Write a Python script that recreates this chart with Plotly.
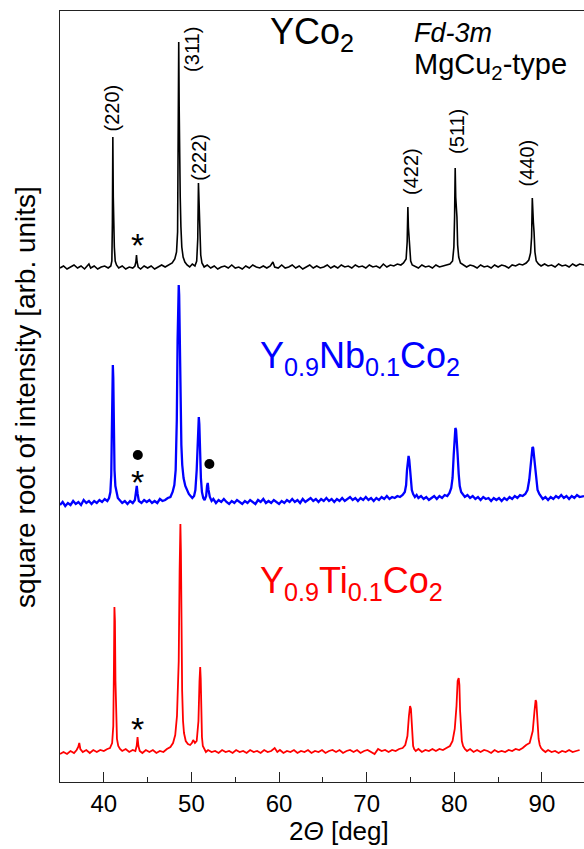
import plotly.graph_objects as go

# ---------------- data ----------------
# 2-theta positions [deg] and sqrt-intensity heights above each pattern's baseline [arb. units]
ycO2_x = [35.0, 35.4, 35.8, 36.2, 36.6, 37.0, 37.4, 37.8, 38.1, 38.3, 38.5, 38.9, 39.3, 39.7, 40.1, 40.5, 40.8,
          40.92, 40.98, 41.03, 41.08, 41.13, 41.2, 41.3, 41.45,
          41.7, 42.1, 42.5, 42.9, 43.3, 43.55, 43.66, 43.73, 43.8, 43.92, 44.2, 44.6, 45.0, 45.4, 45.8, 46.2, 46.6,
          47.0, 47.4, 47.8, 48.1, 48.3, 48.42, 48.5, 48.55, 48.6, 48.66, 48.72, 48.8, 48.9, 49.05, 49.25, 49.5,
          49.8, 50.1, 50.4, 50.6, 50.72, 50.8, 50.86, 50.92, 50.98, 51.06, 51.2, 51.45,
          51.8, 52.2, 52.6, 53.0, 53.4, 53.8, 54.2, 54.6, 55.0, 55.4, 55.8, 56.2, 56.6, 57.0, 57.4, 57.8, 58.2,
          58.6, 59.0, 59.3, 59.5, 59.9, 60.3, 60.7, 61.1, 61.5, 61.9, 62.3, 62.7, 63.1, 63.5, 63.9, 64.3, 64.7,
          65.1, 65.5, 65.9, 66.3, 66.7, 67.1, 67.5, 67.9, 68.3, 68.7, 69.1, 69.5, 69.9, 70.3, 70.7, 71.1, 71.5,
          71.9, 72.3, 72.7, 73.1, 73.5, 73.9, 74.2, 74.5, 74.62, 74.7, 74.76, 74.82, 74.9, 75.02, 75.2,
          75.5, 75.9, 76.3, 76.7, 77.1, 77.5, 77.9, 78.3, 78.7, 79.1, 79.5, 79.8, 79.95, 80.03, 80.1, 80.16,
          80.22, 80.3, 80.38, 80.5, 80.7, 81.0, 81.4, 81.8, 82.2, 82.6, 83.0, 83.4, 83.8, 84.2, 84.6, 85.0,
          85.4, 85.8, 86.2, 86.6, 87.0, 87.4, 87.8, 88.2, 88.5, 88.7, 88.82, 88.9, 88.96, 89.02, 89.1, 89.2,
          89.35, 89.6, 89.9, 90.3, 90.7, 91.1, 91.5, 91.9, 92.3, 92.7, 93.1, 93.5, 93.9, 94.3, 94.8]
yco2_h = [-1, 1, -2, 0, 2, -1, 1, -2, 1, 3, -1, 1, -2, 0, 1, -1, 1,
          6, 45, 130, 70, 46, 20, 6, 2,
          -1, 1, -2, 0, -1, 1, 5, 12, 5, 0, -2, 1, -1, 1, -2, 0, 2,
          0, 2, 4, 8, 15, 35, 110, 225, 160, 80, 70, 40, 20, 10, 5, 2,
          0, 3, 1, 6, 28, 84, 60, 35, 30, 12, 4, 0,
          2, -1, 1, -2, 0, 1, -1, 2, -1, 0, -2, 1, -1, 2, 0, -1, 1,
          -1, 1, 5, 0, -1, 2, -1, 0, 2, -1, 1, -2, 0, 2, -1, 1, -1,
          0, 2, -1, 1, -1, 2, 0, 1, -1, 2, 0, 1, -1, 2, 0, 1, -1,
          3, 0, 2, 1, 3, 2, 4, 8, 25, 60, 40, 30, 14, 6, 2,
          1, -1, 2, 0, 1, -1, 2, 0, 1, 2, 3, 6, 20, 50, 99, 70,
          64, 50, 22, 10, 4, 2, 0, 2, 1, -1, 2, 0, 1, -1, 2, 0,
          2, 1, -1, 2, 1, 3, 2, 4, 7, 14, 30, 69, 50, 45, 35, 15,
          6, 3, 1, 3, 1, 2, 0, 3, 1, 2, 0, 3, 1, 3, 2]

nb_x = [35.0, 35.3, 35.6, 35.9, 36.2, 36.5, 36.8, 37.1, 37.4, 37.7, 38.0, 38.3, 38.6, 38.9, 39.2, 39.5, 39.8,
        40.1, 40.4, 40.6, 40.75, 40.85, 40.92, 40.98, 41.03, 41.08, 41.14, 41.22, 41.32, 41.45, 41.6, 41.8,
        42.1, 42.4, 42.7, 43.0, 43.3, 43.55, 43.68, 43.76, 43.86, 44.0, 44.3, 44.6, 44.9, 45.2, 45.5, 45.8,
        46.1, 46.4, 46.7, 47.0, 47.3, 47.6, 47.85, 48.05, 48.2, 48.33, 48.42, 48.5, 48.55, 48.6, 48.68, 48.76,
        48.85, 48.95, 49.1, 49.3, 49.5, 49.7, 49.9, 50.1, 50.3, 50.45, 50.6, 50.7, 50.78, 50.84, 50.9, 50.98,
        51.08, 51.2, 51.35, 51.5, 51.68, 51.78, 51.86, 51.95, 52.1, 52.3, 52.5, 52.8, 53.1, 53.4, 53.7, 54.0,
        54.3, 54.6, 54.9, 55.2, 55.5, 55.8, 56.1, 56.4, 56.7, 57.0, 57.3, 57.6, 57.9, 58.2, 58.5, 58.8, 59.1,
        59.4, 59.7, 60.0, 60.3, 60.6, 60.9, 61.2, 61.5, 61.8, 62.1, 62.4, 62.7, 63.0, 63.3, 63.6, 63.9, 64.2,
        64.5, 64.8, 65.1, 65.4, 65.7, 66.0, 66.3, 66.6, 66.9, 67.2, 67.5, 67.8, 68.1, 68.4, 68.7, 69.0, 69.3,
        69.6, 69.9, 70.2, 70.5, 70.8, 71.1, 71.4, 71.7, 72.0, 72.3, 72.6, 72.9, 73.2, 73.5, 73.8, 74.1, 74.35,
        74.5, 74.6, 74.7, 74.78, 74.86, 74.95, 75.05, 75.15, 75.3, 75.5, 75.7, 75.9, 76.2, 76.5, 76.8, 77.1,
        77.4, 77.7, 78.0, 78.3, 78.6, 78.9, 79.2, 79.45, 79.65, 79.8, 79.93, 80.03, 80.12, 80.2, 80.28, 80.38,
        80.5, 80.62, 80.78, 81.0, 81.2, 81.5, 81.8, 82.1, 82.4, 82.7, 83.0, 83.3, 83.6, 83.9, 84.2, 84.5,
        84.8, 85.1, 85.4, 85.7, 86.0, 86.3, 86.6, 86.9, 87.2, 87.5, 87.8, 88.1, 88.35, 88.55, 88.7, 88.82,
        88.92, 89.0, 89.1, 89.22, 89.35, 89.5, 89.7, 89.9, 90.1, 90.4, 90.7, 91.0, 91.3, 91.6, 91.9, 92.2,
        92.5, 92.8, 93.1, 93.4, 93.7, 94.0, 94.3, 94.8]
nb_h = [-5, -2, -6, -3, -5, -1, -4, -2, -5, 0, -3, -1, -4, -1, -3, 0, -2,
        1, -1, 2, 8, 25, 70, 120, 135, 122, 75, 30, 14, 6, 2, 0,
        -3, -1, -4, -1, -3, 0, 8, 14, 6, -1, -3, 0, -2, 0, -3, -1,
        -3, 1, -1, 0, 2, 3, 8, 15, 30, 80, 160, 205, 215, 205, 150, 95,
        55, 35, 22, 14, 10, 6, 4, 2, 4, 10, 30, 62, 80, 83, 76, 50,
        22, 8, 2, 0, 4, 14, 17, 10, 3, -1, 1, -3, 0, -2, 1, -2,
        -4, -1, -3, 0, -2, -4, -1, -3, 0, -2, -4, 0, -2, 1, -3, -1, -3,
        0, -2, -4, -1, -3, 0, -2, 1, -2, 0, -3, 1, -2, 0, 2, -1, 1,
        -2, 1, -1, 2, -1, 1, -2, 1, -1, 2, -1, 1, 3, 0, 2, -1, 2,
        0, 3, 0, 2, -1, 2, 0, 3, 1, 4, 1, 3, 2, 4, 3, 5, 8,
        15, 30, 40, 44, 40, 28, 16, 10, 6, 3, 5, 2, 4, 1, 3, 0,
        2, 4, 1, 4, 2, 5, 4, 7, 12, 22, 45, 64, 72, 70, 62, 45,
        26, 14, 8, 5, 3, 5, 2, 4, 1, 3, 0, 3, 1, 2, -1, 2,
        0, 2, -1, 2, 0, 3, 1, 4, 2, 5, 4, 6, 10, 20, 35, 48,
        53, 52, 44, 30, 18, 10, 6, 4, 1, 3, 0, 3, 1, 4, 2, 5,
        2, 4, 1, 4, 2, 5, 3, 4]

ti_x = [35.0, 35.4, 35.8, 36.2, 36.6, 36.9, 37.08, 37.2, 37.32, 37.6, 38.0, 38.4, 38.8, 39.2, 39.6, 40.0,
        40.4, 40.7, 40.95, 41.08, 41.15, 41.21, 41.27, 41.33, 41.41, 41.5, 41.65, 41.85, 42.1, 42.5, 42.9,
        43.3, 43.6, 43.75, 43.85, 43.95, 44.1, 44.4, 44.8, 45.2, 45.6, 46.0, 46.4, 46.8, 47.2, 47.6, 47.9,
        48.15, 48.35, 48.55, 48.65, 48.74, 48.8, 48.86, 48.94, 49.04, 49.15, 49.35, 49.6, 49.85, 50.05, 50.2,
        50.4, 50.6, 50.8, 50.92, 51.0, 51.06, 51.12, 51.2, 51.3, 51.45, 51.65, 51.9, 52.3, 52.7, 53.1, 53.5,
        53.9, 54.3, 54.7, 55.1, 55.5, 55.9, 56.3, 56.7, 57.1, 57.5, 57.9, 58.3, 58.7, 59.1, 59.5, 59.8, 60.1,
        60.5, 60.9, 61.3, 61.7, 62.1, 62.5, 62.9, 63.3, 63.7, 64.1, 64.5, 64.9, 65.3, 65.7, 66.1, 66.5, 66.9,
        67.3, 67.7, 68.1, 68.5, 68.9, 69.3, 69.7, 70.1, 70.5, 70.9, 71.3, 71.7, 72.1, 72.5, 72.9, 73.3, 73.7,
        74.1, 74.4, 74.65, 74.82, 74.95, 75.05, 75.12, 75.2, 75.3, 75.42, 75.6, 75.9, 76.3, 76.7, 77.1, 77.5,
        77.9, 78.3, 78.7, 79.1, 79.5, 79.8, 80.05, 80.25, 80.38, 80.5, 80.58, 80.66, 80.76, 80.86, 81.0,
        81.2, 81.45, 81.8, 82.2, 82.6, 83.0, 83.4, 83.8, 84.2, 84.6, 85.0, 85.4, 85.8, 86.2, 86.6, 87.0,
        87.4, 87.8, 88.2, 88.6, 88.95, 89.15, 89.28, 89.36, 89.44, 89.52, 89.62, 89.75, 89.9, 90.1, 90.4,
        90.7, 91.1, 91.5, 91.9, 92.3, 92.7, 93.1, 93.5, 93.9, 94.3, 94.8]
ti_h = [-3, -1, -3, 0, -2, 1, 4, 8, 2, -1, 1, -2, 1, -1, 1, 0,
        2, 3, 8, 25, 80, 144, 130, 70, 30, 12, 5, 2, 0, 2, -1,
        1, 0, 5, 14, 5, 0, -2, 1, -1, 1, -2, 0, -1, 2, 4, 8,
        16, 35, 90, 180, 227, 200, 120, 60, 30, 18, 10, 7, 6, 8, 11,
        8, 10, 30, 70, 84, 72, 40, 14, 5, 2, -1, 1, -1, 0, -2,
        1, -1, 0, -2, 1, -1, 0, -2, 1, -1, 0, -2, 1, -1, 0, 3, -1,
        1, -2, 0, -1, 1, -2, 0, -1, 1, -2, 0, -1, 1, -2, 0, 1, -1,
        1, -2, 0, 1, -1, 1, -2, 0, 1, -1, -3, 2, 0, 1, -1, 1, 0,
        2, 3, 6, 15, 35, 45, 42, 28, 12, 5, 2, 0, 2, -1, 1, 0,
        2, 0, 2, 1, 3, 5, 10, 22, 45, 70, 73, 66, 40, 20, 10,
        5, 2, 0, 2, -1, 1, -1, 1, 0, -2, 1, -1, 0, -1, 1, 0,
        2, 1, 3, 6, 8, 20, 40, 51, 49, 38, 22, 12, 6, 3, 1,
        -1, 1, -1, 0, -2, 0, -1, 1, -1, 0, 1]

# vertical offsets of the stacked patterns
offset_yco2 = 515
offset_nb = 282
offset_ti = 31

# Miller indices of the YCo2 reflections and where their labels sit (2theta, height)
hkl_labels = ["(220)", "(311)", "(222)", "(422)", "(511)", "(440)"]
hkl_label_x = [40.88, 50.05, 50.83, 75.06, 80.3, 88.35]
hkl_label_y = [674, 733, 625, 610, 651, 619]

# impurity markers: asterisks and dots (2theta, height)
star_x = [43.8, 43.88, 43.85]
star_y = [544, 307, 60]
dot_x = [43.88, 52.05]
dot_y = [327, 318]

FONT = "Liberation Sans, Arial, sans-serif"

fig = go.Figure()
fig.add_trace(go.Scatter(x=ycO2_x, y=[h + offset_yco2 for h in yco2_h], mode="lines",
                         line=dict(color="black", width=1.6), showlegend=False))
fig.add_trace(go.Scatter(x=nb_x, y=[h + offset_nb for h in nb_h], mode="lines",
                         line=dict(color="#0000FF", width=2.3), showlegend=False))
fig.add_trace(go.Scatter(x=ti_x, y=[h + offset_ti for h in ti_h], mode="lines",
                         line=dict(color="#FF0000", width=1.8), showlegend=False))
fig.add_trace(go.Scatter(x=dot_x, y=dot_y, mode="markers",
                         marker=dict(color="black", size=10), showlegend=False))

ann = []
for t, x, y in zip(hkl_labels, hkl_label_x, hkl_label_y):
    ann.append(dict(x=x, y=y, xref="x", yref="y", text=t, textangle=-90, showarrow=False,
                    xanchor="center", yanchor="middle", font=dict(size=20, color="black", family=FONT)))
for x, y in zip(star_x, star_y):
    ann.append(dict(x=x, y=y, xref="x", yref="y", text="*", showarrow=False, xanchor="center",
                    yanchor="middle", yshift=-7, font=dict(size=34, color="black", family=FONT)))

ann += [
    dict(x=58.78, y=748, xref="x", yref="y", text="YCo<sub>2</sub>", showarrow=False, xanchor="left",
         yanchor="middle", font=dict(size=36, color="black", family=FONT)),
    dict(x=75.2, y=749, xref="x", yref="y", text="<i>Fd-3m</i>", showarrow=False, xanchor="left",
         yanchor="middle", font=dict(size=27, color="black", family=FONT)),
    dict(x=75.2, y=716, xref="x", yref="y", text="MgCu<sub>2</sub>-type", showarrow=False, xanchor="left",
         yanchor="middle", font=dict(size=29, color="black", family=FONT)),
    dict(x=57.6, y=424, xref="x", yref="y", text="Y<sub>0.9</sub>Nb<sub>0.1</sub>Co<sub>2</sub>",
         showarrow=False, xanchor="left", yanchor="middle", font=dict(size=36, color="#0000FF", family=FONT)),
    dict(x=57.6, y=199, xref="x", yref="y", text="Y<sub>0.9</sub>Ti<sub>0.1</sub>Co<sub>2</sub>",
         showarrow=False, xanchor="left", yanchor="middle", font=dict(size=36, color="#FF0000", family=FONT)),
    dict(x=-0.066, y=0.5, xref="paper", yref="paper", text="square root of intensity [arb. units]",
         textangle=-90, showarrow=False, xanchor="center", yanchor="middle",
         font=dict(size=28, color="black", family=FONT)),
    dict(x=0.532, y=-0.064, xref="paper", yref="paper", text="2<i>Θ</i> [deg]", showarrow=False,
         xanchor="center", yanchor="middle", font=dict(size=26, color="black", family=FONT)),
]

fig.update_layout(
    width=584, height=849,
    margin=dict(l=60, r=0, t=11, b=67),
    paper_bgcolor="white", plot_bgcolor="white",
    annotations=ann,
    font=dict(family=FONT, color="black"),
)
fig.update_xaxes(range=[35, 94.8], showgrid=False, zeroline=False, showline=True, linecolor="#222",
                 linewidth=1.3, mirror=True, ticks="inside", ticklen=10, tickwidth=1.3, tickcolor="#222",
                 tickvals=[40, 50, 60, 70, 80, 90], tickfont=dict(size=24, color="black", family=FONT),
                 minor=dict(tickvals=[45, 55, 65, 75, 85], ticks="inside", ticklen=5, tickwidth=1.3,
                            tickcolor="#222"))
fig.update_yaxes(range=[0, 771], showgrid=False, zeroline=False, showline=True, linecolor="#222",
                 linewidth=1.3, mirror=False, showticklabels=False, ticks="")

fig.write_html("out.html", config={"displayModeBar": False},
               post_script="document.body.style.margin='0';document.body.style.overflow='hidden';")
